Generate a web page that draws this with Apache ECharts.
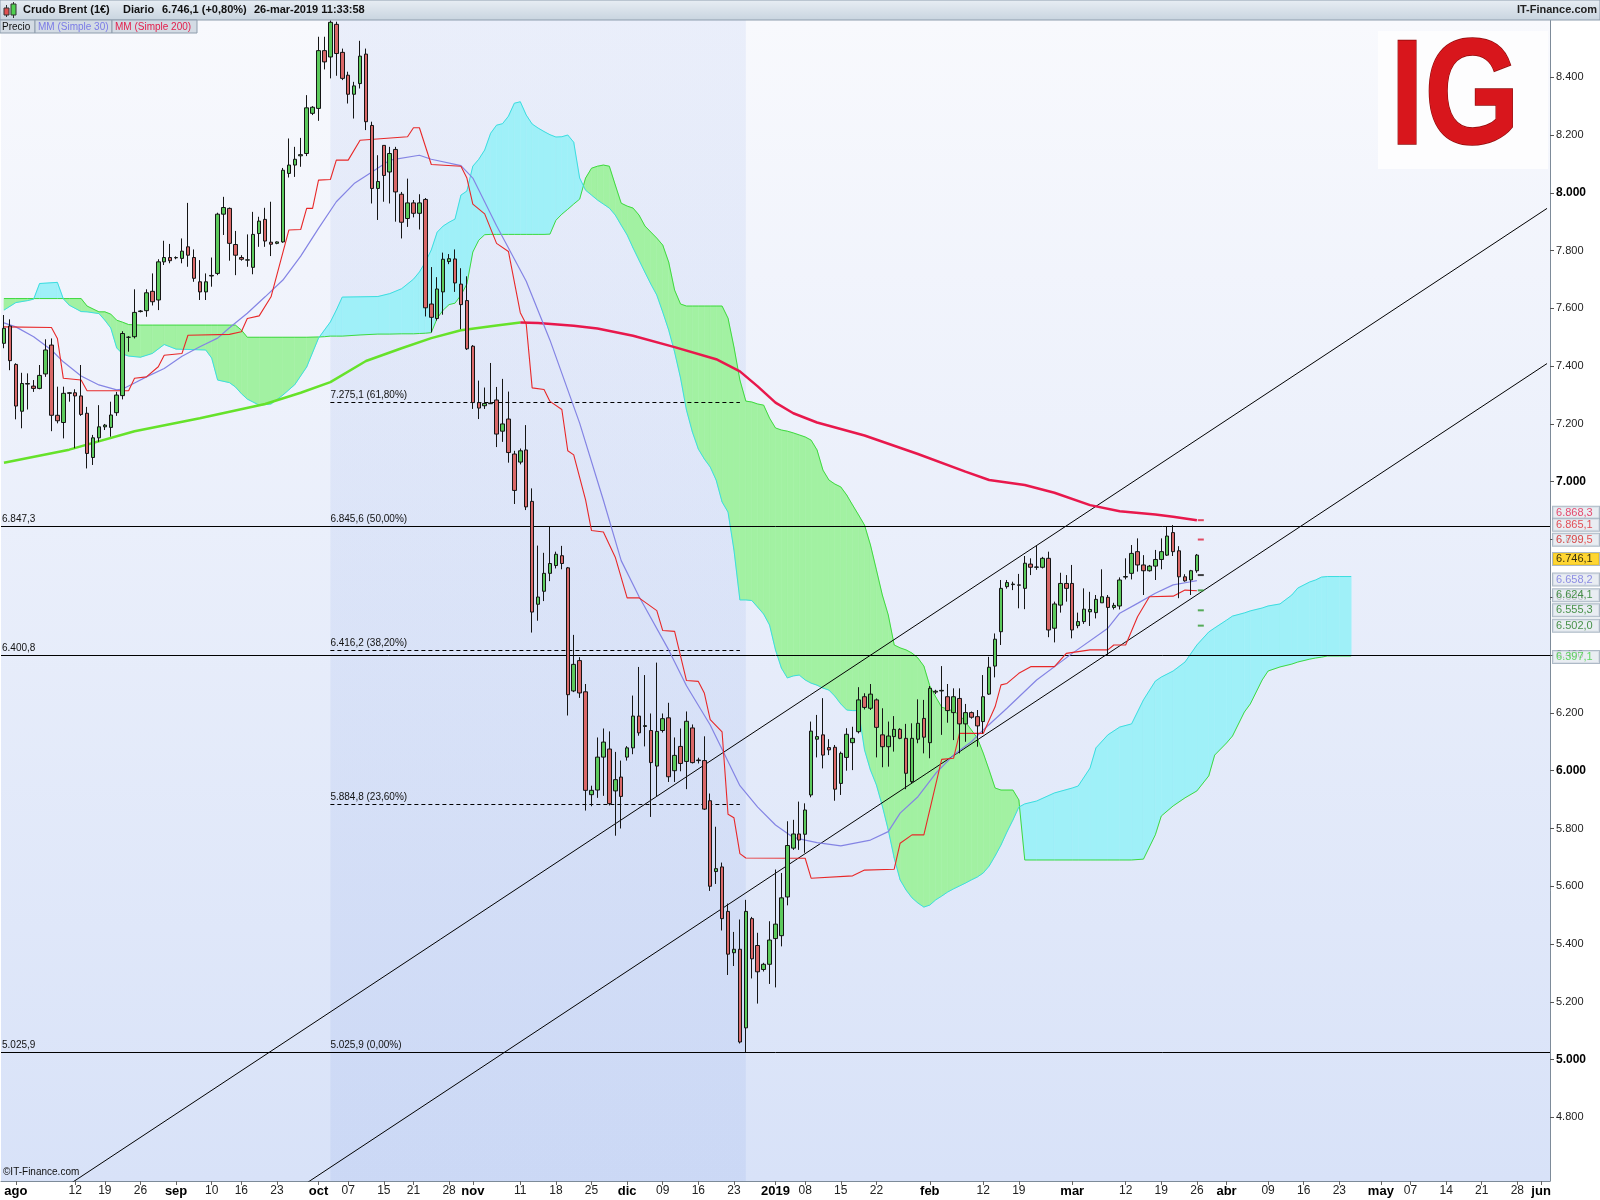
<!DOCTYPE html>
<html>
<head>
<meta charset="utf-8">
<script src="https://cdn.jsdelivr.net/npm/echarts@6/dist/echarts.min.js"></script>
<style>
  html, body { margin: 0; padding: 0; background: #fff; }
  #chart { width: 1600px; height: 1200px; }
</style>
</head>
<body>
<div id="chart"></div>
<script>
// velas diarias (índice de sesión 0 = primera vela visible, ago 2018)
var opens = [7479,7539,7406,7244,7338,7331,7323,7373,7473,7230,7205,7306,7308,7297,7237,7084,7152,7190,7188,7239,
  7298,7500,7502,7589,7592,7659,7629,7761,7776,7775,7773,7813,7776,7692,7657,7712,7721,7926,7946,7821,
  7776,7767,7742,7859,7908,7829,7825,7830,8067,8096,8128,8136,8275,8292,8492,8470,8583,8486,8407,8341,
  8378,8480,8233,8015,8164,8072,8150,7995,7911,7965,7929,7977,7615,7565,7657,7762,7771,7684,7627,7469,
  7274,7263,7270,7283,7175,7217,7096,7068,7110,6932,6576,6621,6683,6710,6744,6702,6276,6381,6273,5917,
  5933,6047,6075,5930,5978,6047,6079,6189,6153,6139,6016,6139,6183,6000,6084,6032,6148,6035,6035,5896,
  5651,5667,5513,5370,5382,5110,5488,5395,5312,5330,5419,5429,5563,5732,5781,5780,5916,6109,6124,6080,
  6081,5956,6046,6097,6135,6256,6216,6245,6124,6083,6118,6143,6112,5962,6109,6181,6097,6272,6276,6256,
  6201,6250,6162,6201,6187,6170,6265,6362,6481,6637,6644,6643,6631,6715,6704,6704,6735,6493,6573,6648,
  6648,6502,6516,6550,6547,6581,6600,6565,6570,6670,6683,6758,6712,6692,6708,6731,6746,6824,6761,6671,
  6660,6692];
var closes = [7531,7419,7262,7340,7340,7323,7368,7456,7230,7211,7306,7308,7297,7233,7098,7152,7190,7196,7231,7300,
  7513,7500,7586,7591,7654,7623,7761,7776,7765,7776,7798,7784,7704,7657,7692,7714,7926,7949,7825,7784,
  7770,7768,7856,7902,7833,7822,7830,8078,8096,8116,8132,8294,8296,8492,8453,8590,8482,8396,8341,8370,
  8473,8246,8015,8039,8060,8136,8003,7898,7965,7929,7965,7602,7569,7667,7770,7772,7688,7613,7460,7274,
  7255,7271,7272,7165,7200,7101,6970,7107,6913,6549,6601,6683,6717,6749,6717,6263,6368,6269,5932,5932,
  6047,6099,5886,5969,5911,6079,6189,6131,6156,6028,6136,6180,5979,6053,6025,6171,6028,6037,5867,5600,
  5661,5488,5365,5382,5061,5513,5349,5304,5330,5414,5469,5560,5741,5781,5760,5864,6137,6118,6054,6072,
  5936,6060,6126,6112,6245,6219,6265,6150,6083,6120,6143,6112,5991,6112,6164,6116,6285,6275,6278,6208,
  6256,6162,6201,6185,6155,6256,6358,6455,6631,6651,6646,6642,6718,6704,6705,6735,6487,6577,6648,6631,
  6487,6516,6559,6558,6593,6602,6565,6572,6660,6672,6752,6712,6692,6708,6731,6758,6812,6758,6671,6657,
  6692,6746];
var lows = [7462,7386,7216,7185,7250,7311,7320,7363,7175,7202,7150,7277,7116,7228,7046,7058,7138,7179,7156,7228,
  7285,7450,7496,7586,7571,7610,7594,7750,7756,7770,7756,7744,7692,7629,7629,7675,7715,7854,7765,7715,
  7765,7744,7718,7813,7813,7781,7822,7827,8053,8055,8090,8127,8269,8249,8427,8396,8405,8390,8309,8257,
  8361,8217,7963,7906,7969,7963,7900,7842,7882,7915,7873,7572,7517,7558,7578,7753,7657,7528,7456,7252,
  7217,7252,7269,7120,7138,7066,6923,7060,6902,6478,6519,6587,6656,6700,6697,6191,6272,6252,5862,5877,
  5906,5913,5880,5775,5800,6035,6057,6121,6084,5840,5911,6132,5961,5961,5998,5936,6025,6025,5864,5584,
  5608,5447,5293,5324,5056,5026,5281,5194,5305,5262,5250,5392,5534,5726,5726,5716,5908,6046,6008,6054,
  5896,5916,6000,6002,6129,6212,6210,6046,6012,6014,6066,6109,5936,5956,6095,6060,6043,6265,6124,6166,
  6106,6060,6100,6180,6083,6129,6262,6323,6435,6630,6625,6562,6559,6677,6695,6700,6462,6444,6547,6585,
  6458,6493,6508,6501,6527,6581,6400,6558,6558,6662,6662,6689,6608,6689,6660,6697,6743,6743,6597,6654,
  6608,6685];
var highs = [7577,7562,7410,7377,7375,7352,7404,7493,7496,7329,7329,7310,7320,7404,7259,7162,7265,7200,7277,7311,
  7521,7504,7666,7594,7666,7721,7770,7834,7823,7780,7842,7965,7804,7767,7721,7776,7931,7986,7949,7868,
  7784,7856,7934,7917,7948,7969,7832,8086,8188,8159,8190,8338,8300,8540,8540,8597,8592,8499,8419,8384,
  8526,8499,8246,8130,8164,8159,8159,8003,8049,7975,7995,7982,7743,7708,7793,7788,7804,7739,7711,7473,
  7350,7326,7411,7328,7356,7312,7107,7115,7196,6977,6779,6754,6844,6758,6778,6705,6470,6393,6300,5948,
  6115,6146,6136,6065,6035,6085,6260,6359,6331,6198,6374,6198,6235,6115,6146,6205,6160,6045,6119,5921,
  5806,5682,5540,5442,5485,5553,5494,5439,5335,5479,5658,5646,5825,5830,5893,5887,6170,6193,6251,6109,
  6089,6066,6147,6152,6289,6268,6300,6250,6216,6170,6189,6147,6162,6164,6247,6245,6293,6280,6362,6300,
  6285,6285,6231,6205,6210,6331,6394,6475,6660,6660,6654,6681,6743,6735,6781,6740,6758,6585,6685,6677,
  6712,6547,6631,6619,6608,6697,6608,6581,6669,6735,6781,6804,6746,6712,6764,6804,6844,6850,6777,6680,
  6695,6750];

// media móvil simple 30 (azul)
var ma30Idx = [0,2,5,8,10,13,16,19,20,22,24,27,30,33,36,38,41,44,47,50,53,56,59,62,65,70,72,77,79,83,88,92,97,101,104,107,112,115,
  119,124,127,130,133,135,137,141,146,149,151,154,157,160,163,165,169,174,180,186,188,191,194,197,200,201];
var ma30Val = [7550,7536,7502,7456,7415,7366,7335,7318,7321,7342,7363,7392,7434,7467,7497,7533,7583,7640,7698,7781,7877,7969,8032,8072,8113,8130,8116,8094,8051,7886,7694,7490,7203,6936,6727,6603,6418,6294,
  6158,5948,5874,5812,5769,5760,5751,5740,5760,5789,5853,5910,5991,6054,6100,6141,6216,6314,6406,6493,6545,6579,6614,6643,6654,6658];

// media móvil simple 200: tramo ascendente (verde) y descendente (rojo)
var ma200UpIdx = [0,11,22,33,44,50,55,61,67,72,77,83,87];
var ma200UpVal = [7066,7111,7175,7220,7269,7308,7345,7418,7462,7497,7524,7541,7551];
var ma200DnIdx = [87,90,96,100,106,113,120,124,127,130,133,137,145,154,162,166,172,177,183,188,194,197,201];
var ma200DnVal = [7551,7549,7540,7530,7505,7466,7424,7382,7330,7274,7237,7205,7160,7096,7035,7006,6989,6962,6919,6898,6887,6879,6867];

// línea escalonada roja (kijun)
var kijunIdx = [0,8,9,10,13,14,21,22,24,26,27,30,31,38,40,41,43,45,48,50,51,52,53,55,56,58,60,68,69,70,72,77,78,79,81,83,85,87,88,89,91,92,94,95,96,98,99,101,103,105,107,
  110,111,113,115,117,118,119,121,122,123,124,125,135,136,143,145,150,151,153,155,158,160,161,165,167,168,169,171,173,177,179,183,186,187,189,191,193,197,199,201];
var kijunVal = [7536,7534,7496,7358,7352,7315,7315,7358,7363,7398,7438,7444,7507,7510,7519,7565,7574,7640,7871,7873,7946,7946,8044,8046,8113,8113,8182,8194,8225,8225,8098,8092,8051,7961,7927,7825,7797,7585,7545,7325,7319,7278,7250,7107,7093,6937,6831,6826,6739,6598,6598,
  6554,6485,6482,6312,6309,6269,6177,6134,5849,5837,5713,5698,5697,5628,5636,5656,5659,5749,5778,5778,6039,6043,6129,6129,6221,6297,6302,6337,6360,6360,6406,6418,6418,6435,6435,6533,6602,6604,6625,6623];

// nube: span A (borde verde) y span B (borde cian)
var cloudIdx = [0,2,4,5,6,9,10,11,13,14,16,17,18,19,20,21,23,25,27,29,34,35,36,38,39,40,41,43,45,47,49,51,53,54,55,56,57,60,63,65,67,69,
  70,71,72,73,74,75,76,77,78,79,80,81,82,83,84,85,86,87,88,89,90,91,92,93,94,95,96,97,98,99,100,101,102,103,104,105,106,107,108,109,
  110,111,112,113,114,115,116,117,118,119,120,121,122,123,124,125,126,127,128,129,130,131,132,133,134,135,136,137,138,139,140,141,142,143,144,
  145,146,147,148,149,150,151,152,153,154,155,156,157,158,159,160,161,162,163,164,165,166,167,168,169,170,171,172,174,177,180,181,183,184,186,
  188,190,192,194,195,197,199,201,203,204,206,207,209,210,212,213,215,217,218,220,221,222,223,225,227];
var spanA = [7634,7634,7634,7634,7634,7634,7634,7634,7634,7608,7588,7588,7580,7559,7552,7544,7542,7542,7542,7542,7542,7542,7542,7542,7542,7525,7500,7500,7500,7500,7500,7500,7501,7502,7504,7504,7504,7508,7511,7511,7512,7512,
  7513,7514,7516,7566,7594,7613,7618,7646,7684,7795,7836,7855,7856,7856,7856,7856,7856,7856,7856,7856,7856,7856,7857,7905,7926,7943,7961,7978,8051,8085,8092,8096,8092,8027,7964,7954,7947,7923,7885,7864,
  7843,7819,7760,7663,7615,7608,7608,7608,7608,7608,7608,7608,7566,7466,7352,7279,7276,7269,7265,7220,7186,7179,7175,7169,7162,7155,7144,7110,7040,7006,6992,6982,6954,6919,6885,
  6850,6781,6695,6608,6539,6435,6425,6418,6407,6390,6362,6293,6255,6220,6213,6206,6193,6169,6141,6113,6061,6002,5940,5933,5933,5933,5899,5691,5691,5691,5691,5691,5691,5691,5691,
  5691,5691,5694,5778,5843,5878,5906,5930,5982,6054,6096,6120,6203,6231,6314,6345,6359,6369,6376,6386,6390,6393,6397,6397,6397];
var spanB = [7594,7620,7627,7632,7686,7690,7633,7611,7589,7588,7582,7559,7532,7463,7442,7435,7431,7444,7475,7459,7456,7428,7352,7343,7328,7305,7286,7265,7269,7300,7336,7397,7497,7525,7553,7594,7639,7640,7641,7651,7668,7701,
  7726,7760,7802,7864,7885,7898,7909,7992,8006,8092,8116,8148,8206,8234,8239,8265,8310,8315,8269,8238,8224,8212,8201,8193,8194,8200,8175,8051,8009,7992,7975,7961,7947,7923,7888,7854,7809,7767,7725,7684,
  7646,7587,7525,7449,7359,7248,7172,7113,7079,7051,7006,6930,6895,6764,6591,6591,6589,6566,6542,6504,6418,6355,6321,6328,6331,6314,6303,6296,6286,6279,6258,6231,6210,6208,6208,
  6072,6002,5951,5878,5795,5698,5622,5587,5560,5542,5528,5535,5553,5566,5580,5591,5601,5611,5622,5632,5646,5670,5705,5743,5788,5829,5874,5885,5895,5923,5940,5947,6009,6079,6124,
  6151,6162,6245,6310,6324,6345,6376,6435,6480,6494,6521,6535,6546,6553,6563,6570,6577,6608,6632,6653,6660,6670,6672,6672,6672];

// líneas de tendencia (canal), niveles horizontales y Fibonacci
var trendIdx = [0, 260];
var trendUpper = [4419, 7946];
var trendLower = [3881, 7409];
var hLevels = [6847.3, 6400.8, 5025.9];
var fibLevels = [7275.1, 6845.6, 6416.2, 5884.8, 5025.9];
var fibPct = ['61,80%', '50,00%', '38,20%', '23,60%', '0,00%'];
var fibRange = [55, 124];
var bandRange = [55, 125];

// etiquetas del eje de precios a la derecha
var sideVals = [6868.3, 6865.1, 6799.5, 6746.1, 6658.2, 6624.1, 6555.3, 6502.0, 6397.1];
var sideColors = ['#e3204c', '#e0262e', '#e52a2a', '#000000', '#7474e0', '#1f7a1f', '#1f7a1f', '#1f7a1f', '#3fd23f'];
var sideBg = ['#e3e9ef', '#e3e9ef', '#e3e9ef', '#ffcc00', '#e3e9ef', '#e3e9ef', '#e3e9ef', '#e3e9ef', '#e3e9ef'];
var sideOffset = [-7, 4, 0, 4, -1, 5, 0, 0, 1];
var dashVals = [6867, 6800, 6677, 6624, 6555, 6502];
var dashColors = ['#e0203c', '#e0203c', '#111111', '#2f9a2f', '#2f9a2f', '#2f9a2f'];

// eje temporal
var nSlots = 261;
var tickIdx = [2,12,17,23,29,35,40,46,53,58,64,69,75,79,87,93,99,105,111,117,123,130,135,141,147,156,165,171,180,189,195,201,206,213,219,225,232,237,243,249,255,259];
var tickText = ['ago','12','19','26','sep','10','16','23','oct','07','15','21','28','nov','11','18','25','dic','09','16','23','2019','08','15','22',
  'feb','12','19','mar','12','19','26','abr','09','16','23','may','07','14','21','28','jun'];
var monthNames = ['ago','sep','oct','nov','dic','2019','feb','mar','abr','may','jun'];
var yTicks = [4800,5000,5200,5400,5600,5800,6000,6200,6400,6600,6800,7000,7200,7400,7600,7800,8000,8200,8400];

var categories = [];
for (var s = 0; s < nSlots; s++) categories.push(String(s));
var tickMap = {};
tickIdx.forEach(function (t, k) { tickMap[t] = tickText[k]; });

function fmtNum(v, d) {
  var parts = v.toFixed(d).split('.');
  var ip = parts[0].replace(/\B(?=(\d{3})+(?!\d))/g, '.');
  return d ? ip + ',' + parts[1] : ip;
}
function pairs(idx, vals) {
  return idx.map(function (x, k) { return [x, vals[k]]; });
}

var GREEN_FILL = '#a2f1a2';
var CYAN_FILL = '#9ff0f8';
var FONT = 'Arial, "Liberation Sans", sans-serif';
var NARROW = '"Liberation Sans Narrow", "Arial Narrow", Arial, sans-serif';

function renderCloud(params, api) {
  var k = params.dataIndex;
  var a0 = api.coord([cloudIdx[k], spanA[k]]);
  var a1 = api.coord([cloudIdx[k + 1], spanA[k + 1]]);
  var b0 = api.coord([cloudIdx[k], spanB[k]]);
  var b1 = api.coord([cloudIdx[k + 1], spanB[k + 1]]);
  var d0 = spanA[k] - spanB[k];
  var d1 = spanA[k + 1] - spanB[k + 1];
  function col(d) { return d >= 0 ? GREEN_FILL : CYAN_FILL; }
  var children = [];
  if (d0 * d1 < 0) {
    var t = d0 / (d0 - d1);
    var p = [a0[0] + t * (a1[0] - a0[0]), a0[1] + t * (a1[1] - a0[1])];
    children.push({ type: 'polygon', shape: { points: [a0, p, b0] }, style: { fill: col(d0), stroke: col(d0), lineWidth: 0.6 } });
    children.push({ type: 'polygon', shape: { points: [p, a1, b1] }, style: { fill: col(d1), stroke: col(d1), lineWidth: 0.6 } });
  } else {
    var c = col(d0 + d1);
    children.push({ type: 'polygon', shape: { points: [a0, a1, b1, b0] }, style: { fill: c, stroke: c, lineWidth: 0.6 } });
  }
  return { type: 'group', children: children };
}

var chart = echarts.init(document.getElementById('chart'), null, { renderer: 'canvas' });

var option = {
  animation: false,
  backgroundColor: '#ffffff',
  grid: {
    left: 1, right: 50, top: 20, bottom: 19,
    show: true,
    borderWidth: 0,
    backgroundColor: new echarts.graphic.LinearGradient(0, 0, 0, 1, [
      { offset: 0, color: '#f8f9fd' },
      { offset: 1, color: '#d8e2f8' }
    ])
  },
  xAxis: {
    type: 'category',
    data: categories,
    boundaryGap: true,
    axisLine: { show: true, lineStyle: { color: '#7d8b99' } },
    axisTick: {
      show: true, length: 4, alignWithLabel: true,
      interval: function (i) { return tickMap[i] !== undefined; },
      lineStyle: { color: '#666' }
    },
    axisLabel: {
      interval: function (i) { return tickMap[i] !== undefined; },
      formatter: function (v, i) {
        var t = tickMap[i];
        if (t === undefined) return '';
        return monthNames.indexOf(t) >= 0 ? '{m|' + t + '}' : t;
      },
      fontSize: 12, fontFamily: NARROW, color: '#222', margin: 4,
      rich: { m: { fontSize: 13, fontWeight: 'bold', fontFamily: NARROW, color: '#000' } }
    },
    splitLine: { show: false }
  },
  yAxis: {
    type: 'value',
    position: 'right',
    min: 4580, max: 8598,
    splitLine: { show: false },
    axisLine: { show: true, lineStyle: { color: '#7d8b99' } },
    axisTick: { show: true, length: 4, customValues: yTicks, lineStyle: { color: '#555' } },
    axisLabel: {
      customValues: yTicks,
      formatter: function (v) {
        var t = fmtNum(v, 0);
        return v % 1000 === 0 ? '{b|' + t + '}' : t;
      },
      fontSize: 11, fontFamily: FONT, color: '#222', margin: 6,
      rich: { b: { fontSize: 12, fontWeight: 'bold', fontFamily: FONT, color: '#000' } }
    }
  },
  series: [
    {
      name: 'zona', type: 'line', data: [], z: 1, silent: true,
      markArea: {
        silent: true,
        itemStyle: {
          color: new echarts.graphic.LinearGradient(0, 0, 0, 1, [
            { offset: 0, color: 'rgba(170,190,238,0.18)' },
            { offset: 1, color: 'rgba(140,168,232,0.17)' }
          ])
        },
        data: [[{ xAxis: bandRange[0] }, { xAxis: bandRange[1] }]]
      }
    },
    {
      name: 'nube', type: 'custom', z: 2, silent: true,
      renderItem: renderCloud,
      encode: { x: 0, y: 1 },
      data: cloudIdx.slice(0, -1).map(function (x, k) { return [x, spanA[k]]; })
    },
    {
      name: 'spanA', type: 'line', z: 3, symbol: 'none', silent: true,
      data: pairs(cloudIdx, spanA),
      lineStyle: { color: '#3fd93f', width: 1 }
    },
    {
      name: 'spanB', type: 'line', z: 3, symbol: 'none', silent: true,
      data: pairs(cloudIdx, spanB),
      lineStyle: { color: '#3cdde0', width: 1 }
    },
    {
      name: 'canal1', type: 'line', z: 4, symbol: 'none', silent: true,
      data: pairs(trendIdx, trendUpper),
      lineStyle: { color: '#000', width: 1 },
      markLine: {
        silent: true, symbol: ['none', 'none'],
        lineStyle: { color: '#000', width: 1, type: 'solid' },
        label: { position: 'insideStartTop', formatter: '{b}', fontSize: 10, fontFamily: FONT, color: '#111', distance: [1, 2] },
        data: hLevels.map(function (v) { return { yAxis: v, name: fmtNum(v, 1) }; })
      }
    },
    {
      name: 'canal2', type: 'line', z: 4, symbol: 'none', silent: true,
      data: pairs(trendIdx, trendLower),
      lineStyle: { color: '#000', width: 1 },
      markLine: {
        silent: true, symbol: ['none', 'none'],
        lineStyle: { color: '#000', width: 1, type: [4, 3] },
        label: { position: 'insideStartTop', formatter: '{b}', fontSize: 10, fontFamily: FONT, color: '#111', distance: [0, 2] },
        data: fibLevels.map(function (v, k) {
          return [
            { coord: [fibRange[0], v], name: fmtNum(v, 1) + ' (' + fibPct[k] + ')' },
            { coord: [fibRange[1], v] }
          ];
        })
      }
    },
    {
      name: 'MM (Simple 200)', type: 'line', z: 5, symbol: 'none', silent: true,
      data: pairs(ma200UpIdx, ma200UpVal),
      lineStyle: { color: '#66e22a', width: 2.5 }
    },
    {
      name: 'MM (Simple 200) b', type: 'line', z: 5, symbol: 'none', silent: true,
      data: pairs(ma200DnIdx, ma200DnVal),
      lineStyle: { color: '#e8184c', width: 2.5 }
    },
    {
      name: 'MM (Simple 30)', type: 'line', z: 5, symbol: 'none', silent: true,
      data: pairs(ma30Idx, ma30Val),
      lineStyle: { color: '#8484e4', width: 1.2 }
    },
    {
      name: 'kijun', type: 'line', z: 5, symbol: 'none', silent: true,
      data: pairs(kijunIdx, kijunVal),
      lineStyle: { color: '#e82828', width: 1.1 }
    },
    {
      name: 'Precio', type: 'candlestick', z: 6, silent: true,
      barWidth: 4,
      data: opens.map(function (o, k) { return [o, closes[k], lows[k], highs[k]]; }),
      itemStyle: {
        color: '#5cca5c', color0: '#d96868',
        borderColor: '#151515', borderColor0: '#151515', borderWidth: 1
      }
    },
    {
      name: 'marcas', type: 'scatter', z: 7, silent: true,
      symbol: 'rect', symbolSize: [6, 2], symbolOffset: [-2, 0],
      data: dashVals.map(function (v, k) { return { value: [202, v], itemStyle: { color: dashColors[k] } }; })
    },
    {
      name: 'etiquetas', type: 'scatter', z: 8, silent: true, clip: false,
      symbolSize: 0,
      data: sideVals.map(function (v, k) {
        return {
          value: [260, v],
          label: {
            show: true, position: 'right', distance: 6, offset: [0, sideOffset[k]],
            formatter: fmtNum(v, 1),
            fontSize: 11, fontFamily: FONT, color: sideColors[k],
            backgroundColor: sideBg[k], borderColor: '#98a8b8', borderWidth: 1,
            padding: [1, 3, 0, 3], width: 40
          }
        };
      })
    }
  ],
  graphic: [
    // barra de título
    { type: 'rect', z: 100, shape: { x: 0, y: 0, width: 1600, height: 20 },
      style: { fill: new echarts.graphic.LinearGradient(0, 0, 0, 1, [{ offset: 0, color: '#e8eef4' }, { offset: 1, color: '#c8d4df' }]), stroke: '#8e9dad', lineWidth: 1 } },
    { type: 'line', z: 101, shape: { x1: 6.5, y1: 5, x2: 6.5, y2: 17 }, style: { stroke: '#333', lineWidth: 1 } },
    { type: 'rect', z: 102, shape: { x: 4, y: 8, width: 5, height: 7 }, style: { fill: '#e05050', stroke: '#333', lineWidth: 1 } },
    { type: 'line', z: 101, shape: { x1: 13.5, y1: 2, x2: 13.5, y2: 18 }, style: { stroke: '#333', lineWidth: 1 } },
    { type: 'rect', z: 102, shape: { x: 11, y: 4, width: 5, height: 11 }, style: { fill: '#50d050', stroke: '#333', lineWidth: 1 } },
    { type: 'text', z: 102, left: 23, top: 4, style: { text: 'Crudo Brent (1€)', font: 'bold 11px ' + FONT, fill: '#111' } },
    { type: 'text', z: 102, left: 123, top: 4, style: { text: 'Diario', font: 'bold 11px ' + FONT, fill: '#111' } },
    { type: 'text', z: 102, left: 162, top: 4, style: { text: '6.746,1 (+0,80%)', font: 'bold 11px ' + FONT, fill: '#111' } },
    { type: 'text', z: 102, left: 254, top: 4, style: { text: '26-mar-2019 11:33:58', font: 'bold 11px ' + FONT, fill: '#111' } },
    { type: 'text', z: 102, right: 3, top: 4, style: { text: 'IT-Finance.com', font: 'bold 11px ' + FONT, fill: '#222' } },
    // leyenda
    { type: 'rect', z: 100, shape: { x: 0, y: 20, width: 35, height: 13 }, style: { fill: '#d3dbe4', stroke: '#8e9dad', lineWidth: 1 } },
    { type: 'text', z: 101, left: 2, top: 22, style: { text: 'Precio', font: '10px ' + FONT, fill: '#111' } },
    { type: 'rect', z: 100, shape: { x: 35, y: 20, width: 77, height: 13 }, style: { fill: '#d3dbe4', stroke: '#8e9dad', lineWidth: 1 } },
    { type: 'text', z: 101, left: 38, top: 22, style: { text: 'MM (Simple 30)', font: '10px ' + FONT, fill: '#7b7be6' } },
    { type: 'rect', z: 100, shape: { x: 112, y: 20, width: 85, height: 13 }, style: { fill: '#d3dbe4', stroke: '#8e9dad', lineWidth: 1 } },
    { type: 'text', z: 101, left: 115, top: 22, style: { text: 'MM (Simple 200)', font: '10px ' + FONT, fill: '#e3204c' } },
    // logotipo
    { type: 'rect', z: 90, shape: { x: 1378, y: 31, width: 170, height: 138 }, style: { fill: '#fdfdfe' } },
    { type: 'text', z: 91, x: 1390, y: 28, scaleX: 0.82,
      style: { text: 'IG', font: 'bold 150px "Liberation Sans", Arial, sans-serif',
        fill: '#d8161c', stroke: '#8e0a0a', lineWidth: 1.5 } },
    // pie
    { type: 'text', z: 102, left: 3, top: 1167, style: { text: '©IT-Finance.com', font: '10px ' + FONT, fill: '#111' } }
  ]
};

chart.setOption(option);
</script>
</body>
</html>
